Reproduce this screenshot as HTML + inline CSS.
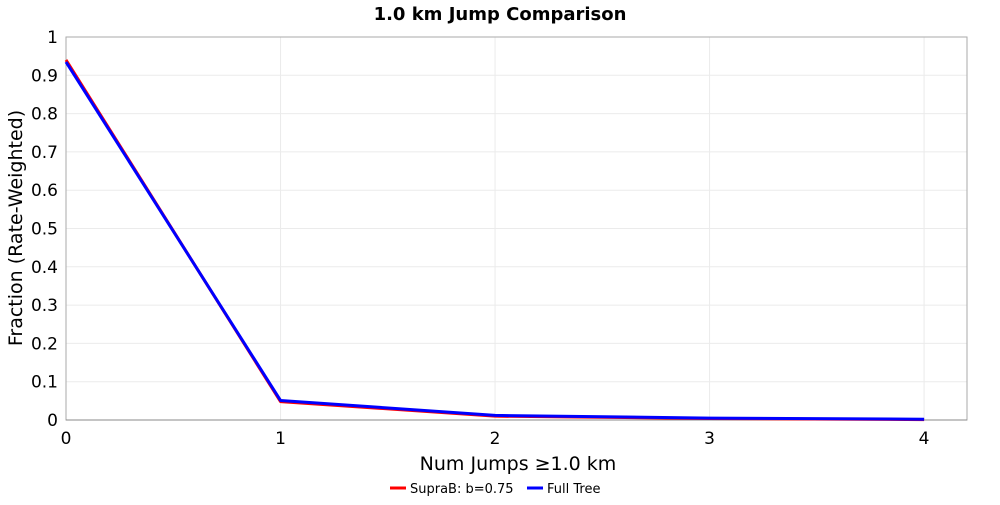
<!DOCTYPE html>
<html><head><meta charset="utf-8"><style>
body{margin:0;background:#fff;}
svg text{font-family:"DejaVu Sans","Liberation Sans",sans-serif;}
</style></head><body>
<svg id="chart" width="1000" height="500" xmlns="http://www.w3.org/2000/svg">
<text x="500" y="20" text-anchor="middle" font-size="18" font-weight="bold">1.0 km Jump Comparison</text>
<g id="grid"></g>
<rect x="66" y="37" width="901" height="383" fill="none" stroke="#aaa"/>
<g id="ticks"></g>
<g id="series"></g>
<text x="518" y="470" text-anchor="middle" font-size="19">Num Jumps ≥1.0 km</text>
<text transform="translate(22,228) rotate(-90)" text-anchor="middle" font-size="19">Fraction (Rate-Weighted)</text>
<g>
<g><line x1="390" y1="488" x2="406" y2="488" stroke="#f00" stroke-width="3"/><text x="410" y="493" font-size="13">SupraB: b=0.75</text></g>
<g><line x1="527" y1="488" x2="543" y2="488" stroke="#00f" stroke-width="3"/><text x="547" y="493" font-size="13">Full Tree</text></g>
</g>
</svg>
<script>
const categories=[0,1,2,3,4];
const supraB=[0.94,0.048,0.010,0.004,0.001];
const fullTree=[0.935,0.051,0.012,0.005,0.002];
const xTicks=[0,1,2,3,4];
const yTicks=[0,0.1,0.2,0.3,0.4,0.5,0.6,0.7,0.8,0.9,1];
const NS="http://www.w3.org/2000/svg";
const X=v=>66+v*(967-66)/4.2;
const Y=v=>420-v*383;
const grid=document.getElementById('grid'),ticks=document.getElementById('ticks'),ser=document.getElementById('series');
function mk(t,a,p){const e=document.createElementNS(NS,t);for(const k in a)e.setAttribute(k,a[k]);p.appendChild(e);return e;}
xTicks.forEach(t=>{
 const g=mk('line',{x1:X(t),x2:X(t),y1:37,y2:420,stroke:'#ebebeb'},grid);
 
 
 const l=mk('text',{x:X(t),y:444,'text-anchor':'middle','font-size':17},ticks);l.textContent=t;
 
 
});
yTicks.forEach(t=>{
 const g=mk('line',{x1:66,x2:967,y1:Y(t),y2:Y(t),stroke:'#ebebeb'},grid);
 
 
 const l=mk('text',{x:58,y:Y(t)+6,'text-anchor':'end','font-size':17},ticks);l.textContent=String(t);
 
 
});
mk('line',{x1:66,x2:967,y1:420,y2:420,stroke:'#888'},ticks);
function draw(vals,color,name){
 const p=mk('polyline',{points:categories.map((c,i)=>X(c)+','+Y(vals[i])).join(' '),fill:'none',stroke:color,'stroke-width':3,'stroke-linejoin':'round'},ser);
 
 
}
draw(supraB,'#f00','line-suprab');
draw(fullTree,'#00f','line-full-tree');
</script>
</body></html>
